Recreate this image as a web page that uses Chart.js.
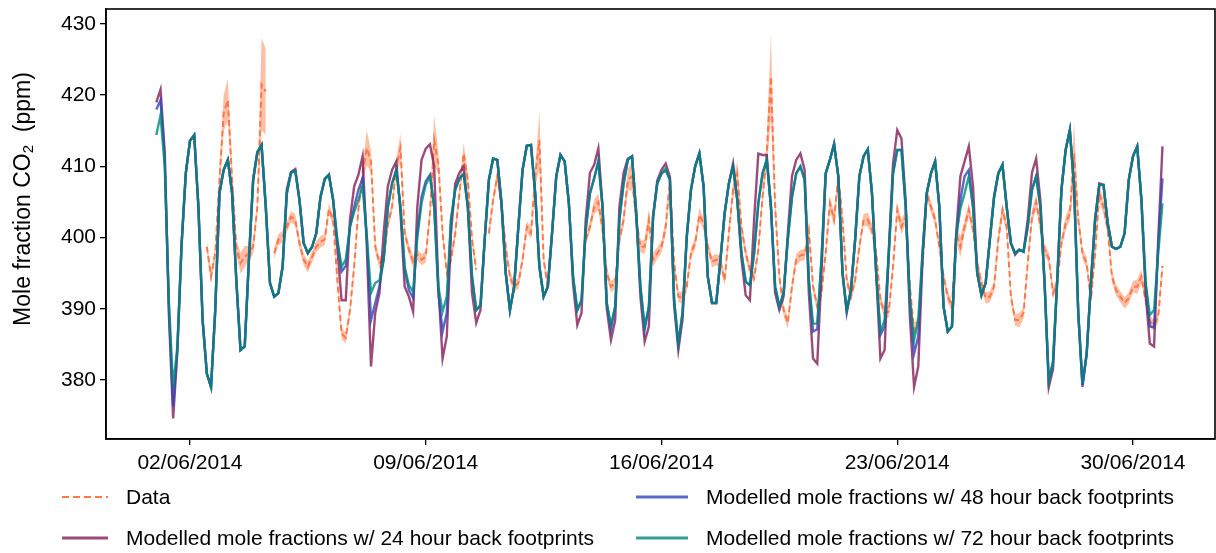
<!DOCTYPE html>
<html>
<head>
<meta charset="utf-8">
<title>CO2 mole fractions, June 2014</title>
<script src="https://cdn.jsdelivr.net/npm/chart.js@4.4.1/dist/chart.umd.min.js"></script>
<style>
  html, body { margin: 0; padding: 0; background: #fff; }
  #wrap { position: relative; width: 1216px; height: 553px; font-family: "Liberation Sans", Arial, Helvetica, sans-serif; }
  #legend { position: absolute; left: 0; top: 0; width: 1216px; height: 553px; pointer-events: none; }
  .key { position: absolute; }
  .lbl { position: absolute; font-size: 21px; line-height: 24px; color: #000; white-space: nowrap; }
  #ytitle {
    position: absolute; left: 22px; top: 199px; font-size: 23px; line-height: 26px; color: #000;
    white-space: pre; transform: translate(-50%, -50%) rotate(-90deg);
  }
  #ytitle sub { font-size: 15px; vertical-align: -3px; line-height: 0; }
</style>
</head>
<body>
<div id="wrap">
  <canvas id="co2" width="1216" height="553"></canvas>
  <div id="legend"></div>
  <div id="ytitle">Mole fraction CO<sub>2</sub>  (ppm)</div>
</div>
<script>
// 3-hourly series starting 01/06/2014 00:00 (x in days since then)
const stepHours = 3

const xTickDays = [1, 8, 15, 22, 29]
const xTickLabels = ['02/06/2014', '09/06/2014', '16/06/2014', '23/06/2014', '30/06/2014']
const yTicks = [380, 390, 400, 410, 420, 430]

const seriesNames = [
  'Data',
  'Modelled mole fractions w/ 24 hour back footprints',
  'Modelled mole fractions w/ 48 hour back footprints',
  'Modelled mole fractions w/ 72 hour back footprints',
]

// observations (ppm), null = no measurement
const obs = [
  null,null,null,null,null,null,null,null, null,null,null,null,398.7,394.5,397.8,408.1,
  417.5,419.3,408.1,398.7,396.4,397.3,397.8,398.7, 404.3,421.5,420.5,null,397.8,399.7,400.1,401.5,
  402.9,402.5,399.2,396.9,395.9,397.3,398.7,399.4, 399.7,404,402.5,394,386.5,385.9,389.8,395.9,
  404,409,412.6,410.7,398.7,396.4,396.9,401.9, 404.3,410,412.6,400.6,398.3,396.6,397.6,396.9,
  397.3,403.4,413.7,410.4,400.6,395,396.9,400.6, 406.2,411.8,408.1,399.7,395.5,null,null,400.6,
  405.3,408.6,404.3,398.7,394.5,393.1,393.6,396.9, 401.5,400.6,408.6,413.7,396.9,393.1,null,null,
  null,null,null,null,null,null,399.7,401.5, 404.3,405,401.1,395,393.1,393.6,399.7,402.5,
  408.1,408.6,402.5,398.7,398.7,402.5,396.9,397.8, 398.7,401.5,408,396.4,391.7,391.5,393.1,397.8,
  399.2,403.2,402,398.7,396.6,396.9,396.6,394, 400.6,406.7,409,401.5,397.8,395.5,394.3,398.3,
  405.7,411.8,422.6,404.3,394.5,389.8,388,393.1, 396.9,397.5,397.6,401,393.1,390.3,392.2,397.8,
  404.8,402.5,408.6,402.5,394,391.7,394,398.7, 402.5,402.5,401.1,397.8,391.2,389.4,389.6,395.9,
  403.9,401.5,402.9,393.1,387,388.4,395.9,406.2, 404.3,402.5,398.7,394.5,391.7,390.3,400.6,398.7,
  401.5,403.9,401.1,396.4,393.6,391.5,391.7,393.1, 399.7,403.9,401.5,391.7,388.4,388.4,389.4,396.4,
  402.9,405,401.5,398.3,397.1,392.2,393.6,399.2, 402,403.4,411.8,402.5,397.8,396.4,391.2,397.8,
  406.2,404.3,401.1,394.5,392.6,391.7,390.8,391.5, 393.1,393.1,394.5,391.2,388.2,387.7,388.9,396,
]

// measurement uncertainty (+/- ppm)
const obsErr = [
  null,null,null,null,null,null,null,null, null,null,null,null,0.8,0.9,0.8,1.5,
  2.5,3,1.5,1,1.5,1.5,1,1, 1,6.5,6,null,0.8,0.8,0.8,0.8,
  0.8,0.8,0.8,0.8,0.8,0.8,0.8,0.8, 0.8,0.8,0.8,0.8,0.8,0.8,0.8,0.8,
  0.8,1,2.5,1.5,0.8,0.8,0.8,0.8, 0.8,1,2,0.8,0.8,0.8,0.8,0.8,
  0.8,1,3.5,1.5,0.8,0.8,0.8,0.8, 0.8,1.5,1,0.8,0.8,null,null,0.8,
  0.8,0.8,0.8,0.8,0.8,0.8,0.8,0.8, 0.8,0.8,1.5,4,0.8,0.8,null,null,
  null,null,null,null,null,null,0.8,0.8, 1,1.2,0.8,0.8,0.8,0.8,0.8,1,
  1.5,2,1,0.8,1,1.5,1,0.8, 0.8,1,1.5,0.8,0.8,0.8,0.8,0.8,
  0.8,1,0.8,0.8,0.8,0.8,0.8,0.8, 1,1.2,1.8,1,0.8,0.8,0.8,0.8,
  1,2,6,1.5,0.8,0.8,0.8,0.8, 0.8,0.8,0.8,1,0.8,0.8,0.8,0.8,
  1,1,1.5,1,0.8,0.8,0.8,0.8, 0.8,1,0.8,0.8,0.8,0.8,0.8,0.8,
  1,1,1,0.8,0.8,0.8,0.8,0.8, 0.8,0.8,0.8,0.8,0.8,0.8,1.2,1.5,
  1,1,0.8,0.8,0.8,0.8,0.8,0.8, 1,1,0.8,0.8,0.8,1,0.8,0.8,
  1,1,0.8,0.8,0.8,0.8,0.8,0.8, 1,1,4.5,1,0.8,0.8,0.8,0.8,
  1.2,1,0.8,0.8,0.8,0.8,0.8,0.8, 0.8,1,1,0.8,0.8,0.8,0.8,0.8,
]

const model24h = [
  419,420.8,412,389,374.6,384,399,409, 413.6,414.4,404.3,388.4,380.9,379,389.8,406.2,
  409.5,410.9,406.2,394,384.2,384.7,396.9,408.1, 412,413,404.3,393.6,391.7,392.2,395.9,406.8,
  409.2,409.6,405.3,399.2,397.8,398.7,400.6,405.7, 408.2,408.8,405.3,398.5,391.2,391.2,402.5,407.2,
  408.8,411.4,398.7,381.9,389.4,392.2,400.6,407.2, 409.5,410.7,403.5,393.1,391.7,389.6,404.3,410.9,
  412.5,413.1,410,393.1,383,386.1,400.6,407.6, 409.1,410,404.3,392.2,388,389.8,399.7,408.1,
  411.1,410.9,404.8,395,389.8,393.1,401.5,409.5, 412.9,413,406.2,395.9,391.7,393.1,400.6,408.6,
  411.6,410.7,404.8,393.5,387.7,389.4,402.5,409.1, 410.2,412.5,404.3,390,385.6,388.4,404.3,409.1,
  411.1,411.4,403.4,391.7,385.4,387.5,402.9,408, 409.5,410.4,408.5,390.5,384.2,388.5,400.1,406.7,
  410,411.8,407.2,394.5,390.8,390.8,396.9,403.4, 407.6,410.4,405.3,397,391.9,391.2,402.5,411.8,
  411.6,411.6,404.3,392.2,389.8,391.7,400.5,408.6, 410.9,411.8,409.5,392.2,383,382.3,395,409,
  410.9,413.1,408.6,395,389.8,392.6,399.7,408.6, 411.4,412.4,406.2,395,383,384.2,398.2,410.4,
  415.1,413.9,405.2,388.9,379,381.9,396.9,406.2, 409,410.7,404.3,390.3,386.8,387.5,400.6,408.6,
  410.7,412.8,407.2,395,391.9,393.6,399.7,405.7, 409,410.2,404.3,399.2,397.6,398.3,398,402.5,
  409.1,411.1,405.2,393.6,379,381.5,394,406.7, 412.3,415.1,407.2,389.4,379.3,383.7,393.6,402.5,
  407.6,407.4,402,398.7,398.4,398.7,400.6,408.1, 411.4,412.8,405.3,392.2,385.1,384.7,399.7,412.8,
]

const model48h = [
  418,419.3,411,390,376.3,384.3,399,409, 413.6,414.4,404.3,388.4,380.9,379,389.8,406.2,
  409.5,410.9,406.2,394,384.2,384.7,396.9,408.1, 412,413,404.3,393.6,391.7,392.2,395.9,406.2,
  409.1,409.4,405.3,399.2,397.8,398.7,400.6,405.7, 408.2,408.8,405.3,399.5,395.2,396,401.5,404.3,
  406.7,408.3,400.1,388.4,390.8,393.1,396.9,404.3, 407.6,409.5,404.3,395.5,392.6,391.5,400.6,405.7,
  407.9,408.8,404.3,392.2,386.8,389.4,402.5,406.7, 408.3,408.9,404.3,394.5,389.8,390.5,399.7,408.1,
  411.1,410.9,404.8,395,389.8,393.1,401.5,409.5, 412.9,413,406.2,395.9,391.7,393.1,400.6,408.6,
  411.6,410.7,404.8,394.5,389.8,391.2,401.1,406.2, 408.3,410.7,404.3,390.8,387.2,390.3,402.5,407.6,
  410.9,411.4,403.4,393.1,387,390.3,402.9,407.6, 409,409.4,408.1,391.2,385.1,389.4,400.1,406.7,
  410,411.8,407.2,394.5,390.8,390.8,396.9,403.4, 407.6,410,405.3,397.8,393.8,393.3,397.8,404.8,
  409,410.9,404.3,393.1,390.3,392.2,399.7,405.7, 409,410,408.1,394,386.8,387.1,396.9,409,
  410.9,413.2,408.6,395,389.4,392.6,399.7,408.6, 411.4,412.4,406.2,395,386.3,387.5,397.8,409,
  412.3,412.3,404.3,391.2,383.7,386.1,397.8,406.2, 409,410.7,404.3,390.3,386.8,387.5,400.1,405.3,
  408.6,409.5,404.3,395,391.9,393.6,399.7,405.7, 409,410.2,404.3,399.2,397.8,398.3,398,401.5,
  406.7,408.6,404.3,393.6,379.8,382.5,394,406.7, 412.3,415.1,407.2,389.4,379,383.7,393.6,402.5,
  407.4,407.4,402,398.7,398.4,398.7,400.6,408.1, 411.4,412.8,405.3,393.6,387.5,387.4,399,408.3,
]

const model72h = [
  414.4,417.2,410,390.8,379,384.7,399,409, 413.6,414.4,404.3,388.4,380.9,379,389.8,406.2,
  409.5,410.9,406.2,394,384.2,384.7,396.9,408.1, 412,413,404.3,393.6,391.7,392.2,395.9,406.2,
  409.1,409.4,405.3,399.2,397.8,398.7,400.6,405.7, 408.2,408.8,405.3,399.7,395.9,396.9,401.5,403.6,
  405.3,407.2,400.1,392.2,393.6,394,396.9,404.3, 407.6,409.5,404.3,395.9,393.3,392.4,400.1,404.8,
  407.4,408.6,404.3,393.1,389.6,391.7,402.5,406.7, 408.3,408.9,404.3,394.5,389.8,390.5,399.7,408.1,
  411.1,410.9,404.8,395,389.8,393.1,401.5,409.5, 412.9,413,406.2,395.9,391.7,393.1,400.6,408.6,
  411.6,410.7,404.8,394.5,389.8,391.2,401.1,406.2, 408.3,410.7,404.3,390.8,387.7,390.3,402.5,407.6,
  410.9,411.4,403.4,393.1,387.5,390.3,402.9,407.6, 409,409.7,408.1,391.2,385.1,389.4,400.1,406.7,
  410,411.8,407.2,394.5,390.8,390.8,396.9,403.4, 407.6,410,405.3,397.8,393.8,393.3,397.8,404.8,
  409,410.9,404.3,393.1,390.3,392.2,399.7,405.7, 409,410,408.1,394,387.9,387.9,396.9,409,
  410.9,413.1,408.6,395,389.8,392.6,399.7,408.6, 411.4,412.4,406.2,395,386.8,388.4,397.8,409,
  412.3,412.3,404.3,391.2,385.6,388.4,397.8,406.2, 409,410.7,404.3,390.3,386.8,387.5,400.1,404.1,
  406.2,408.6,404.3,395,391.9,393.6,399.7,405.7, 409,410.2,404.3,399.2,397.8,398.3,398,401.5,
  406.7,408.6,404.3,393.6,379.8,382.5,394,406.7, 412.3,415.1,407.2,389.4,379.5,383.7,393.6,402.5,
  407.4,407.4,402,398.7,398.4,398.7,400.6,408.1, 411.4,412.8,405.3,393.6,389.1,389.8,397.8,404.8,
]

// ---- styling ----
const FONT = '"Liberation Sans", Arial, Helvetica, sans-serif'
const obsColor = 'rgba(255,120,72,1)'
const bandColor = 'rgba(255,127,80,0.5)'
const colors = {
  m24: 'rgba(130,29,88,0.8)',
  m48: 'rgba(49,68,186,0.8)',
  m72: 'rgba(0,136,124,0.8)',
}

const toPoints = arr => arr.map((v, i) => ({ x: i * stepHours / 24, y: v }))
const bandHigh = obs.map((v, i) => (v === null ? null : v + obsErr[i]))
const bandLow = obs.map((v, i) => (v === null ? null : v - obsErr[i]))

const modelLine = (label, values, color) => ({
  label,
  data: toPoints(values),
  borderColor: color,
  borderWidth: 2.4,
  pointRadius: 0,
  tension: 0,
  fill: false,
})

// the box around the plot, like a matplotlib frame
const frame = {
  id: 'frame',
  afterDraw(chart) {
    const { ctx, chartArea: a } = chart
    ctx.save()
    ctx.strokeStyle = '#000'
    ctx.lineWidth = 1.6
    ctx.strokeRect(a.left, a.top, a.right - a.left, a.bottom - a.top)
    ctx.restore()
  },
}

const co2Chart = new Chart(document.getElementById('co2'), {
  type: 'line',
  data: {
    datasets: [
      // first dataset is painted last, so the 72 h run sits on top
      modelLine(seriesNames[3], model72h, colors.m72),
      modelLine(seriesNames[2], model48h, colors.m48),
      modelLine(seriesNames[1], model24h, colors.m24),
      {
        label: seriesNames[0],
        data: toPoints(obs),
        borderColor: obsColor,
        borderWidth: 2,
        borderDash: [6, 3.5],
        pointRadius: 0,
        tension: 0,
        spanGaps: false,
        fill: false,
      },
      {
        label: 'upper',
        data: toPoints(bandHigh),
        borderWidth: 0,
        pointRadius: 0,
        spanGaps: false,
        fill: false,
      },
      {
        label: 'lower',
        data: toPoints(bandLow),
        borderWidth: 0,
        pointRadius: 0,
        spanGaps: false,
        fill: '-1',
        backgroundColor: bandColor,
      },
    ],
  },
  options: {
    responsive: false,
    animation: false,
    devicePixelRatio: 1,
    layout: { padding: { top: 9, right: 1, left: 0, bottom: 0 } },
    plugins: {
      legend: { display: false },
      tooltip: { enabled: false },
    },
    scales: {
      x: {
        type: 'linear',
        min: -1.494,
        max: 31.435,
        afterFit: scale => {
          scale.height = 114
          scale.paddingLeft = 0
          scale.paddingRight = 0
        },
        afterBuildTicks: scale => { scale.ticks = xTickDays.map(v => ({ value: v })) },
        ticks: {
          callback: (v, i) => xTickLabels[i],
          color: '#000',
          font: { family: FONT, size: 21 },
          padding: 6,
          maxRotation: 0,
          autoSkip: false,
        },
        grid: { drawOnChartArea: false, drawTicks: true, tickLength: 6, color: '#000', lineWidth: 1.3 },
        border: { display: true, color: '#000', width: 1.6 },
      },
      y: {
        type: 'linear',
        min: 371.7,
        max: 432.1,
        afterFit: scale => {
          scale.width = 106
          scale.paddingTop = 0
          scale.paddingBottom = 0
        },
        afterBuildTicks: scale => { scale.ticks = yTicks.map(v => ({ value: v })) },
        ticks: {
          color: '#000',
          font: { family: FONT, size: 21 },
          padding: 4,
        },
        grid: { drawOnChartArea: false, drawTicks: true, tickLength: 6, color: '#000', lineWidth: 1.3 },
        border: { display: true, color: '#000', width: 1.6 },
      },
    },
  },
  plugins: [frame],
})

// ---- legend (two columns under the axes) ----
const legendSlots = [
  { name: seriesNames[0], color: obsColor, dash: '7 4', width: 2.2, x: 62, y: 497, textX: 126 },
  { name: seriesNames[1], color: colors.m24, dash: null, width: 3, x: 62, y: 538, textX: 126 },
  { name: seriesNames[2], color: colors.m48, dash: null, width: 3, x: 636, y: 497, textX: 706 },
  { name: seriesNames[3], color: colors.m72, dash: null, width: 3, x: 636, y: 538, textX: 706 },
]

const legendBox = document.getElementById('legend')
legendSlots.forEach(slot => {
  const keyW = slot.textX - slot.x - 18
  const svgNS = 'http://www.w3.org/2000/svg'
  const svg = document.createElementNS(svgNS, 'svg')
  svg.setAttribute('class', 'key')
  svg.setAttribute('width', keyW)
  svg.setAttribute('height', 10)
  svg.style.left = slot.x + 'px'
  svg.style.top = (slot.y - 5) + 'px'
  const line = document.createElementNS(svgNS, 'line')
  line.setAttribute('x1', 0)
  line.setAttribute('x2', keyW)
  line.setAttribute('y1', 5)
  line.setAttribute('y2', 5)
  line.setAttribute('stroke', slot.color)
  line.setAttribute('stroke-width', slot.width)
  if (slot.dash) line.setAttribute('stroke-dasharray', slot.dash)
  svg.appendChild(line)

  const text = document.createElement('div')
  text.className = 'lbl'
  text.textContent = slot.name
  text.style.left = slot.textX + 'px'
  text.style.top = (slot.y - 12) + 'px'

  legendBox.append(svg, text)
})
</script>
</body>
</html>
